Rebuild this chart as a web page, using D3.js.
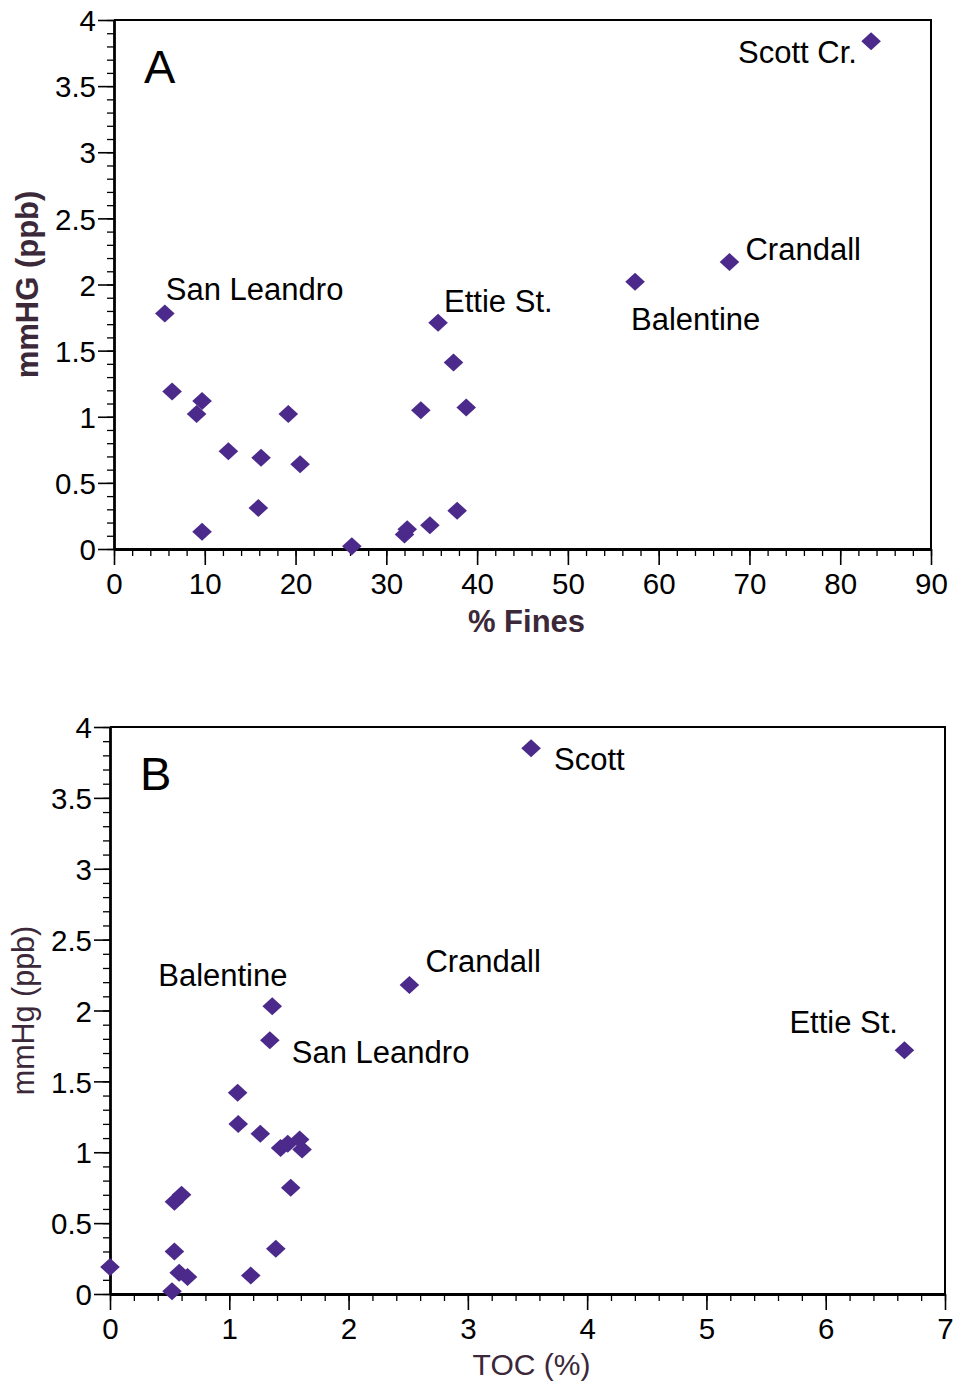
<!DOCTYPE html>
<html>
<head>
<meta charset="utf-8">
<script src="https://cdn.jsdelivr.net/npm/d3@7"></script>
<style>
    body { margin: 0; background: #fff; }
    text { font-family: "Liberation Sans", Arial, sans-serif; }
</style>
</head>
<body>
<div id="chart"></div>
<script>
// Panel A: % fines vs mmHg
const finesX = [5.6, 6.4, 9.1, 9.7, 9.7, 12.6, 16.2, 15.9, 19.2, 20.5, 26.2, 32.0, 32.3, 34.8, 33.8, 35.7, 37.4, 38.8, 37.8, 57.4, 67.8, 83.4];
const finesY = [1.78, 1.19, 1.02, 1.12, 0.13, 0.74, 0.69, 0.31, 1.02, 0.64, 0.02, 0.11, 0.15, 0.18, 1.05, 1.71, 1.41, 1.07, 0.29, 2.02, 2.17, 3.84];

// Panel B: TOC vs mmHg
const tocX = [0.0, 0.52, 0.54, 0.58, 0.65, 0.54, 0.60, 1.07, 1.075, 1.26, 1.43, 1.49, 1.59, 1.61, 1.515, 1.39, 1.18, 1.36, 1.34, 2.51, 3.53, 6.66];
const tocY = [0.19, 0.02, 0.30, 0.15, 0.12, 0.65, 0.70, 1.42, 1.20, 1.13, 1.03, 1.06, 1.09, 1.02, 0.75, 0.32, 0.13, 2.03, 1.79, 2.18, 3.85, 1.72];

// station labels: index of the point they belong to, offset from it
const labelsA = [
    {text: "San Leandro", i: 0, dx: 1, dy: -14},
    {text: "Ettie St.", i: 15, dx: 6, dy: -11},
    {text: "Balentine", i: 19, dx: -4, dy: 48},
    {text: "Crandall", i: 20, dx: 16, dy: -2},
    {text: "Scott Cr.", i: 21, dx: -133, dy: 22}
];
const labelsB = [
    {text: "Balentine", i: 17, dx: -114, dy: -20},
    {text: "San Leandro", i: 18, dx: 22, dy: 23},
    {text: "Crandall", i: 19, dx: 16, dy: -13},
    {text: "Scott", i: 20, dx: 23, dy: 22},
    {text: "Ettie St.", i: 21, dx: -115, dy: -17}
];

const width = 956, height = 1385;
const dotColor = "#4b2a8b";
const titleColor = "#3b2838";

const svg = d3.select("#chart")
    .append("svg")
    .attr("width", width)
    .attr("height", height);

function diamond(w, h) {
    const p = d3.path();
    p.moveTo(0, -h);
    p.lineTo(w, 0);
    p.lineTo(0, h);
    p.lineTo(-w, 0);
    p.closePath();
    return p.toString();
}

function drawPanel(opt) {
    const x = d3.scaleLinear().domain(opt.xDomain).range([opt.left, opt.right]);
    const y = d3.scaleLinear().domain([0, 4]).range([opt.bottom, opt.top]);

    const g = svg.append("g");

    // frame (top and right)
    g.append("path")
        .attr("d", `M${opt.left},${opt.top}H${opt.right}V${opt.bottom}`)
        .attr("fill", "none")
        .attr("stroke", "#000")
        .attr("stroke-width", 2);

    // minor ticks
    g.append("g")
        .attr("transform", `translate(0,${opt.bottom})`)
        .call(d3.axisBottom(x).tickValues(d3.range(opt.xDomain[0], opt.xDomain[1] + 1e-9, opt.xMinor)).tickSize(7).tickFormat(""))
        .call(a => a.select(".domain").remove())
        .selectAll("line").attr("stroke-width", 1.3);
    g.append("g")
        .attr("transform", `translate(${opt.left},0)`)
        .call(d3.axisLeft(y).tickValues(d3.range(0, 4.0001, 0.1)).tickSize(7).tickFormat(""))
        .call(a => a.select(".domain").remove())
        .selectAll("line").attr("stroke-width", 1.3);

    // major ticks + labels
    const xAxis = g.append("g")
        .attr("transform", `translate(0,${opt.bottom})`)
        .call(d3.axisBottom(x).ticks(opt.xTicks).tickSize(16).tickSizeOuter(0).tickPadding(8).tickFormat(d3.format("d")));
    const yAxis = g.append("g")
        .attr("transform", `translate(${opt.left},0)`)
        .call(d3.axisLeft(y).tickValues(d3.range(0, 4.0001, 0.5)).tickSize(16).tickSizeOuter(0).tickPadding(2).tickFormat(d => d3.format("")(d)));

    [xAxis, yAxis].forEach(a => {
        a.select(".domain").attr("stroke-width", 2.8);
        a.selectAll(".tick line").attr("stroke-width", 1.6);
        a.selectAll("text")
            .attr("fill", "#000")
            .style("font-size", "29.5px")
            .style("font-family", "'Liberation Sans', Arial, sans-serif");
    });
    yAxis.selectAll("text").attr("dy", "0.36em");

    // axis titles
    g.append("text")
        .attr("x", (opt.left + opt.right) / 2 + 4)
        .attr("y", opt.xTitleY)
        .attr("text-anchor", "middle")
        .attr("fill", titleColor)
        .style("font-size", opt.bold ? "31px" : "30px")
        .style("font-weight", opt.bold ? "bold" : "normal")
        .text(opt.xTitle);
    g.append("text")
        .attr("transform", `translate(${opt.yTitleX},${(opt.top + opt.bottom) / 2}) rotate(-90)`)
        .attr("text-anchor", "middle")
        .attr("fill", titleColor)
        .style("font-size", opt.bold ? "31px" : "30.5px")
        .style("font-weight", opt.bold ? "bold" : "normal")
        .text(opt.yTitle);

    // panel letter
    g.append("text")
        .attr("x", opt.left + 30)
        .attr("y", opt.top + 63)
        .style("font-size", "47px")
        .text(opt.letter);

    // points
    g.selectAll(".dot")
        .data(opt.xs.map((v, i) => [v, opt.ys[i]]))
        .join("path")
        .attr("class", "dot")
        .attr("d", diamond(9.8, 9))
        .attr("fill", dotColor)
        .attr("transform", d => `translate(${x(d[0])},${y(d[1])})`);

    // station labels
    g.selectAll(".lab")
        .data(opt.labels)
        .join("text")
        .attr("class", "lab")
        .attr("x", d => x(opt.xs[d.i]) + d.dx)
        .attr("y", d => y(opt.ys[d.i]) + d.dy)
        .style("font-size", "31px")
        .text(d => d.text);
}

drawPanel({
    letter: "A",
    xs: finesX, ys: finesY, labels: labelsA,
    xDomain: [0, 90], xTicks: 9, xMinor: 2,
    left: 114, right: 931, top: 20, bottom: 549,
    xTitle: "% Fines", yTitle: "mmHG (ppb)", bold: true,
    xTitleY: 632, yTitleX: 38
});

drawPanel({
    letter: "B",
    xs: tocX, ys: tocY, labels: labelsB,
    xDomain: [0, 7], xTicks: 7, xMinor: 0.2,
    left: 110, right: 945, top: 727, bottom: 1294,
    xTitle: "TOC (%)", yTitle: "mmHg (ppb)", bold: false,
    xTitleY: 1375, yTitleX: 34
});
</script>
</body>
</html>
